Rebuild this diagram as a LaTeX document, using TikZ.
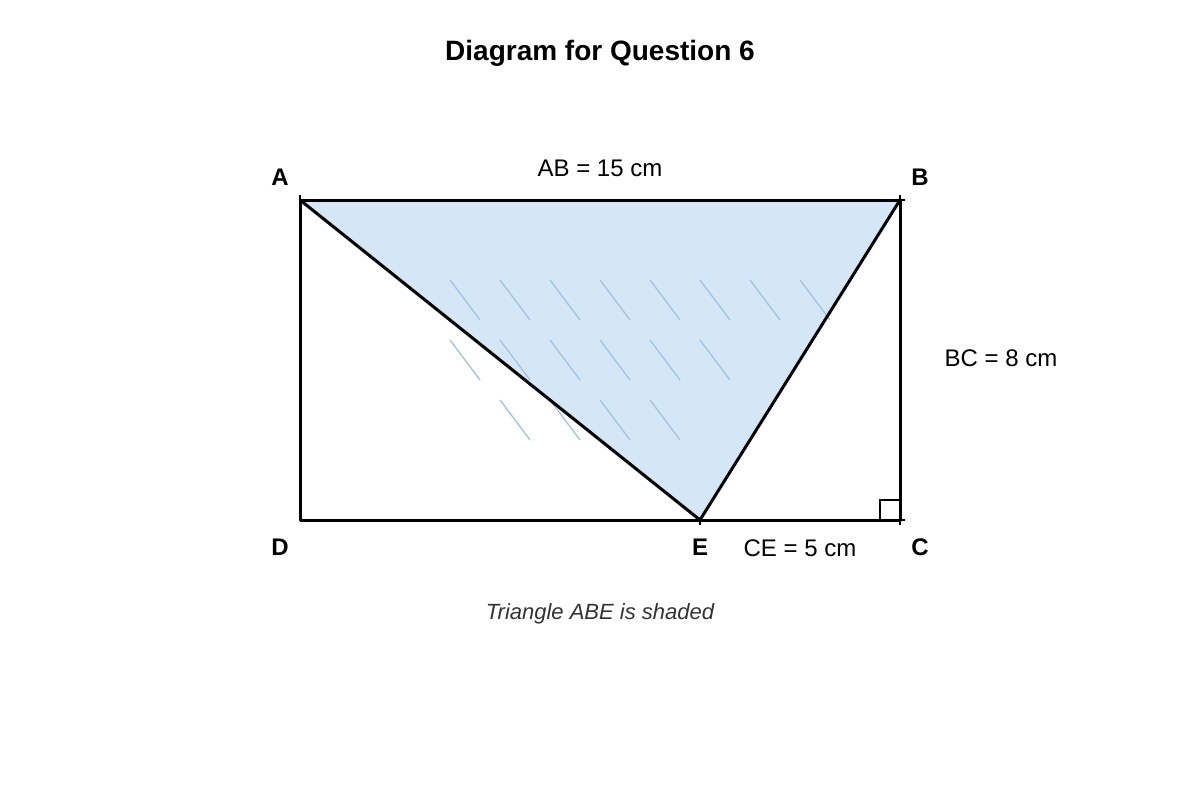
\documentclass[tikz,border=0pt]{standalone}
\usepackage{fontspec}
\setmainfont{Liberation Sans}
\usetikzlibrary{calc}
\definecolor{triblue}{HTML}{D5E7F6}
\definecolor{hatchblue}{HTML}{9DC3E6}
\definecolor{captiongray}{HTML}{333333}
\tikzset{
  edge/.style={draw=black, line width=3pt, line join=round},
  hatchline/.style={draw=hatchblue, line width=1.3pt},
  vlabel/.style={font=\fontsize{24}{28}\selectfont\bfseries, text=black, inner sep=0pt},
  dimlabel/.style={font=\fontsize{24}{28}\selectfont, text=black, inner sep=0pt},
  tick/.style={draw=black, line width=1.5pt},
}
\begin{document}
\begin{tikzpicture}[x=1pt, y=-1pt]
\path[use as bounding box, fill=white] (0,0) rectangle (1200,800);
% vertices
\coordinate (A) at (300,200);
\coordinate (B) at (900,200);
\coordinate (C) at (900,520);
\coordinate (D) at (300,520);
\coordinate (E) at (700,520);
% shaded triangle
\fill[triblue] (A) -- (B) -- (E) -- cycle;
% hatch lines
\foreach \x in {450,500,...,800} { \draw[hatchline] (\x,280) -- ++(30,40); }
\foreach \x in {450,500,...,700} { \draw[hatchline] (\x,340) -- ++(30,40); }
\foreach \x in {500,550,...,650} { \draw[hatchline] (\x,400) -- ++(30,40); }
% rectangle and triangle edges
\draw[edge] (A) -- (B) -- (C) -- (D) -- cycle;
\draw[edge] (A) -- (E) -- (B);
% right angle marker
\draw[line width=1.8pt] (880,520) -- (880,500) -- (900,500);
% point ticks
\draw[tick] (A) -- ++(0,-5);
\draw[tick] (B) -- ++(0,-5);
\draw[tick] (B) -- ++(5,0);
\draw[tick] (C) -- ++(0,5);
\draw[tick] (C) -- ++(5,0);
\draw[tick] (E) -- ++(0,5);
% labels
\node[font=\fontsize{28}{32}\selectfont\bfseries, inner sep=0pt] (title) at (600,53) {Diagram for Question 6};
\node[vlabel] (lA) at (280,177) {A};
\node[vlabel] (lB) at (920,177) {B};
\node[vlabel] (lD) at (280,547) {D};
\node[vlabel] (lE) at (700,547) {E};
\node[vlabel] (lC) at (920,547) {C};
\node[dimlabel] (ab) at (600,168) {AB = 15 cm};
\node[dimlabel] (bc) at (1001,358) {BC = 8 cm};
\node[dimlabel] (ce) at (800,548) {CE = 5 cm};
\node[font=\fontsize{22}{26}\selectfont\itshape, text=captiongray, inner sep=0pt] (cap) at (600,614) {Triangle ABE is shaded};
\end{tikzpicture}
\end{document}
